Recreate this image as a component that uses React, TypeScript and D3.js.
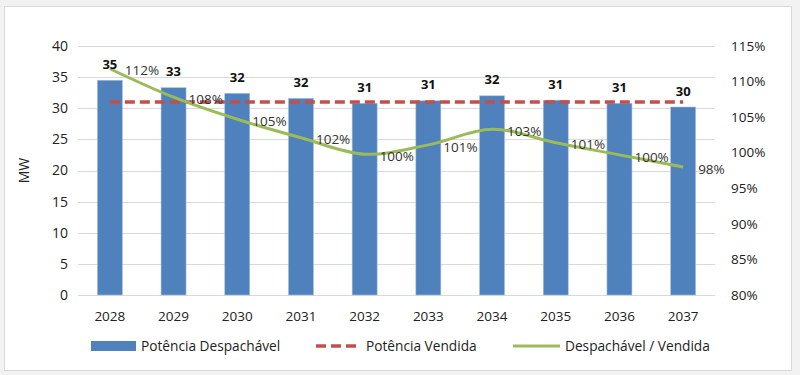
import React from "react";
import * as d3 from "d3";

const years = ["2028", "2029", "2030", "2031", "2032", "2033", "2034", "2035", "2036", "2037"];
const potDespachavel = [34.5, 33.3, 32.4, 31.6, 30.8, 31.2, 32.0, 31.3, 30.8, 30.2];
const barLabels = ["35", "33", "32", "32", "31", "31", "32", "31", "31", "30"];
const potVendida = [31, 31, 31, 31, 31, 31, 31, 31, 31, 31];
const ratio = [111.8, 107.8, 104.7, 102.1, 99.8, 101.1, 103.3, 101.4, 99.7, 98.0];
const ratioLabels = ["112%", "108%", "105%", "102%", "100%", "101%", "103%", "101%", "100%", "98%"];
const leftTicks = [0, 5, 10, 15, 20, 25, 30, 35, 40];
const rightTicks = [80, 85, 90, 95, 100, 105, 110, 115];
const legendLabels = ["Potência Despachável", "Potência Vendida", "Despachável / Vendida"];

const W = 800, H = 375;
const plot = { left: 78, right: 715, top: 46, bottom: 295 };
const FONT = "'Open Sans', 'Noto Sans', sans-serif";
const BLUE = "#4F81BD", RED = "#C0504D", GREEN = "#9BBB59";

export default function App() {
  const yL = d3.scaleLinear().domain([0, 40]).range([plot.bottom, plot.top]);
  const yR = d3.scaleLinear().domain([80, 115]).range([plot.bottom, plot.top]);
  const band = d3.scaleBand<string>().domain(years).range([plot.left, plot.right]);
  const cx = (y: string) => (band(y) as number) + band.bandwidth() / 2;
  const bw = 25;

  const redLine = d3.line<number>().x((_, i) => cx(years[i])).y((v) => yL(v))(potVendida) as string;
  const greenLine = d3
    .line<number>()
    .x((_, i) => cx(years[i]))
    .y((v) => yR(v))
    .curve(d3.curveCatmullRom.alpha(0.5))(ratio) as string;

  return (
    <svg width={W} height={H} style={{ position: "absolute", left: 0, top: 0, background: "#fff" }} fontFamily={FONT}>
      <rect x={0} y={0} width={W} height={H} fill="#f2f2f2" />
      <rect x={4.5} y={6.5} width={787} height={364} fill="#fff" stroke="#d9d9d9" strokeWidth={1} />
      {leftTicks.map((t) => (
        <g key={"g" + t}>
          <line x1={plot.left} x2={plot.right} y1={Math.round(yL(t)) + 0.5} y2={Math.round(yL(t)) + 0.5} stroke="#d9d9d9" strokeWidth={1} />
          <text x={68} y={yL(t)} dy="0.35em" textAnchor="end" fontSize={14} fill="#222">{t}</text>
        </g>
      ))}
      {rightTicks.map((t) => (
        <text key={"r" + t} x={731} y={yR(t)} dy="0.35em" textAnchor="start" fontSize={13.5} fill="#222">{t}%</text>
      ))}
      <text transform={`translate(29,${(plot.top + plot.bottom) / 2}) rotate(-90)`} textAnchor="middle" fontSize={14} fill="#222">MW</text>
      {years.map((yr, i) => (
        <g key={yr}>
          <rect x={cx(yr) - bw / 2} y={yL(potDespachavel[i])} width={bw} height={yL(0) - yL(potDespachavel[i])} fill={BLUE} stroke="#a9c1e0" strokeWidth={0.6} />
          <text x={cx(yr)} y={316} dy="0.35em" textAnchor="middle" fontSize={13.5} fill="#222">{yr}</text>
        </g>
      ))}
      <path d={redLine} fill="none" stroke={RED} strokeWidth={3.5} strokeDasharray="10 5" />
      <path d={greenLine} fill="none" stroke={GREEN} strokeWidth={3} />
      {years.map((yr, i) => (
        <text key={"bl" + yr} x={cx(yr)} y={yL(potDespachavel[i]) - 16} dy="0.35em" textAnchor="middle" fontSize={13} fontWeight="bold" fill="#111">{barLabels[i]}</text>
      ))}
      {years.map((yr, i) => (
        <text key={"pl" + yr} x={cx(yr) + 15} y={yR(ratio[i]) + 2} dy="0.35em" textAnchor="start" fontSize={13.5} fill="#333">{ratioLabels[i]}</text>
      ))}
      <g>
        <rect x={91} y={341} width={45} height={10} fill={BLUE} />
        <text x={141} y={346} dy="0.35em" fontSize={13.7} fill="#222">{legendLabels[0]}</text>
        <line x1={316} x2={358} y1={346} y2={346} stroke={RED} strokeWidth={3.5} strokeDasharray="10 5" />
        <text x={366} y={346} dy="0.35em" fontSize={13.7} fill="#222">{legendLabels[1]}</text>
        <line x1={513} x2={560} y1={346} y2={346} stroke={GREEN} strokeWidth={3} />
        <text x={565} y={346} dy="0.35em" fontSize={13.7} fill="#222">{legendLabels[2]}</text>
      </g>
    </svg>
  );
}
